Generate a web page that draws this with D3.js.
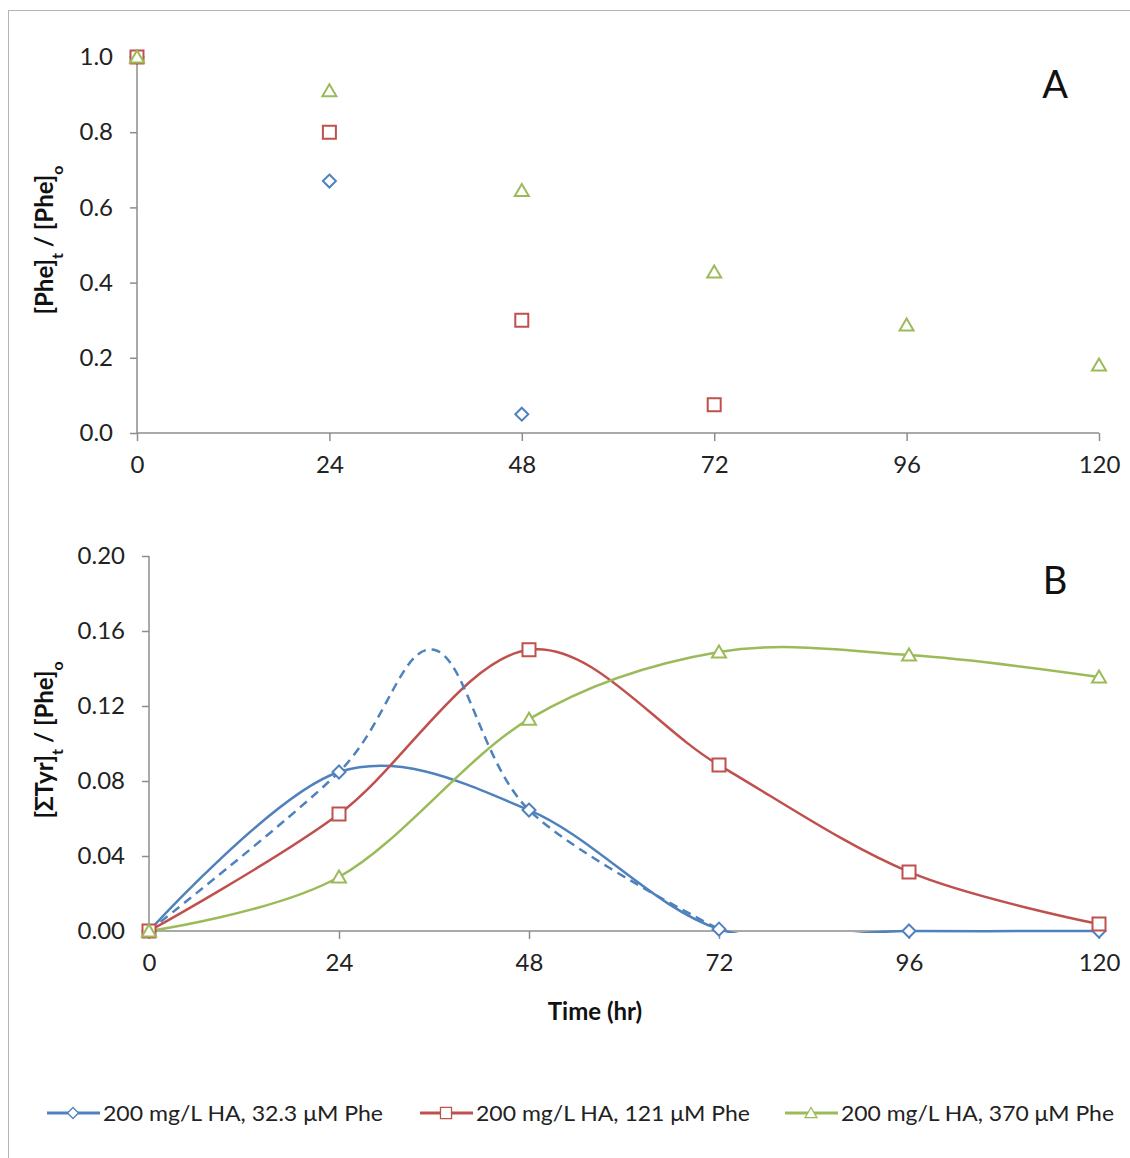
<!DOCTYPE html>
<html>
<head>
<meta charset="utf-8">
<script src="https://cdn.jsdelivr.net/npm/d3@7"></script>
<style>
  html, body { margin: 0; padding: 0; background: #fff; }
  svg { display: block; font-family: Lato, "Open Sans", sans-serif; }
</style>
</head>
<body>
<svg id="chart" width="1130" height="1158"></svg>
<script>
// Sampling times (hr)
const hours = [0, 24, 48, 72, 96, 120];

// Panel A: remaining Phe fraction [Phe]t/[Phe]o
const pheLow  = [1.0, 0.67, 0.05];                       // 32.3 µM Phe
const pheMid  = [1.0, 0.80, 0.30, 0.075];                // 121 µM Phe
const pheHigh = [1.0, 0.91, 0.645, 0.428, 0.287, 0.181]; // 370 µM Phe

// Panel B: total tyrosine yield [ΣTyr]t/[Phe]o
const tyrLow  = [0, 0.0848, 0.0645, 0.001, 0, 0];
const tyrMid  = [0, 0.0624, 0.150, 0.0885, 0.0315, 0.0037];
const tyrHigh = [0, 0.0288, 0.113, 0.1488, 0.1472, 0.1355];

// Alternative trace for the 32.3 µM run (dashed, no markers)
const altHours = [0, 24, 36, 48, 72];
const tyrLowAlt = [0, 0.0848, 0.150, 0.0645, 0.001];

const ticksA = [0, 0.2, 0.4, 0.6, 0.8, 1.0];
const ticksB = [0, 0.04, 0.08, 0.12, 0.16, 0.20];
const timeTicks = [0, 24, 48, 72, 96, 120];

const seriesNames = ["200 mg/L HA, 32.3 \u03BCM Phe", "200 mg/L HA, 121 \u03BCM Phe", "200 mg/L HA, 370 \u03BCM Phe"];
const colors = ["#4F81BD", "#C0504D", "#9BBB59"];
const shapes = ["diamond", "square", "triangle"];

const svg = d3.select("#chart");
const axisColor = "#8c8c8c";

// outer chart frame
svg.append("rect").attr("x", 8.5).attr("y", 10.5).attr("width", 1140).attr("height", 1170)
  .attr("fill", "none").attr("stroke", "#b4b4b4").attr("stroke-width", 1);

function markerPath(shape) {
  if (shape === "diamond") return "M0,-6.5L6.5,0L0,6.5L-6.5,0Z";
  if (shape === "square") return "M-6.5,-6.5H6.5V6.5H-6.5Z";
  return "M0,-6.5L7,5.5H-7Z";
}

function drawMarkers(g, xs, ys, x, y, i) {
  g.selectAll(null).data(ys).join("path")
    .attr("d", markerPath(shapes[i]))
    .attr("transform", (d, k) => `translate(${x(xs[k])},${y(d)})`)
    .attr("fill", "#fff").attr("stroke", colors[i]).attr("stroke-width", 2);
}

function drawAxes(g, x, y, yTicks, fmt) {
  const xAxis = d3.axisBottom(x).tickValues(timeTicks).tickSize(8).tickPadding(15).tickFormat(d3.format("d"));
  const yAxis = d3.axisLeft(y).tickValues(yTicks).tickSize(7).tickPadding(17).tickFormat(d3.format(fmt));
  const gx = g.append("g").attr("transform", `translate(0,${y(0)})`).call(xAxis);
  const gy = g.append("g").attr("transform", `translate(${x(0)},0)`).call(yAxis);
  [gx, gy].forEach(a => {
    a.select(".domain").attr("stroke", axisColor).attr("stroke-width", 1.5);
    a.selectAll(".tick line").attr("stroke", axisColor).attr("stroke-width", 1.5);
    a.selectAll(".tick text").attr("fill", "#222").style("font-size", "24px").style("font-family", "Lato, sans-serif");
  });
  gx.select(".domain").attr("d", `M${x(0)},0H${x(120)}`);
  gy.select(".domain").attr("d", `M0,${y(yTicks[yTicks.length - 1])}V${y(0)}`);
}

function yTitle(g, cx, cy, parts) {
  const t = g.append("text").attr("transform", `translate(${cx},${cy}) rotate(-90)`)
    .attr("text-anchor", "middle").attr("font-weight", "bold").attr("font-size", 24).attr("fill", "#111");
  parts.forEach(p => {
    const s = t.append("tspan").text(p.t);
    if (p.sub) s.attr("font-size", 16).attr("baseline-shift", "sub");
  });
}

// ---------- Panel A ----------
const xA = d3.scaleLinear().domain([0, 120]).range([137, 1099]);
const yA = d3.scaleLinear().domain([0, 1]).range([433, 57]);
const gA = svg.append("g");
drawAxes(gA, xA, yA, ticksA, ".1f");
yTitle(gA, 53, 240, [{t: "[Phe]"}, {t: "t", sub: true}, {t: " / [Phe]"}, {t: "o", sub: true}]);
gA.append("text").attr("x", 1055).attr("y", 98).attr("text-anchor", "middle")
  .attr("font-size", 38).attr("fill", "#111").text("A");

[pheLow, pheMid, pheHigh].forEach((vals, i) => drawMarkers(gA, hours, vals, xA, yA, i));

// ---------- Panel B ----------
const xB = d3.scaleLinear().domain([0, 120]).range([149, 1099]);
const yB = d3.scaleLinear().domain([0, 0.2]).range([931, 556]);
const gB = svg.append("g");
drawAxes(gB, xB, yB, ticksB, ".2f");
yTitle(gB, 53, 740, [{t: "[\u03A3Tyr]"}, {t: "t", sub: true}, {t: " / [Phe]"}, {t: "o", sub: true}]);
gB.append("text").attr("x", 1055).attr("y", 594).attr("text-anchor", "middle")
  .attr("font-size", 38).attr("fill", "#111").text("B");
gB.append("text").attr("x", 595).attr("y", 1020).attr("text-anchor", "middle")
  .attr("font-weight", "bold").attr("font-size", 24).attr("fill", "#111").text("Time (hr)");

// curves are clipped just below the zero line, like the plot area edge
svg.append("defs").append("clipPath").attr("id", "plotB")
  .append("rect").attr("x", xB(0) - 10).attr("y", yB(0.2) - 10)
  .attr("width", xB(120) - xB(0) + 20).attr("height", yB(0) - yB(0.2) + 12);

const smooth = (x, y, xs) => d3.line().x((d, k) => x(xs[k])).y(d => y(d)).curve(d3.curveCardinal.tension(0));
const lines = gB.append("g").attr("clip-path", "url(#plotB)");

[tyrLow, tyrMid, tyrHigh].forEach((vals, i) => {
  lines.append("path").datum(vals).attr("d", smooth(xB, yB, hours))
    .attr("fill", "none").attr("stroke", colors[i]).attr("stroke-width", 2.5);
});
lines.append("path").datum(tyrLowAlt).attr("d", smooth(xB, yB, altHours))
  .attr("fill", "none").attr("stroke", colors[0]).attr("stroke-width", 2.5)
  .attr("stroke-dasharray", "9,6");
[tyrLow, tyrMid, tyrHigh].forEach((vals, i) => drawMarkers(gB, hours, vals, xB, yB, i));

// ---------- Legend ----------
const legendX = [47, 420, 785];
const legendTextLen = [280, 274, 273];
const legend = svg.append("g");
seriesNames.forEach((name, i) => {
  const lg = legend.append("g").attr("transform", `translate(${legendX[i]},1113)`);
  lg.append("line").attr("x1", 0).attr("x2", 53).attr("y1", 0).attr("y2", 0)
    .attr("stroke", colors[i]).attr("stroke-width", 3);
  lg.append("path").attr("d", markerPath(shapes[i])).attr("transform", "translate(26,0) scale(0.85)")
    .attr("fill", "#fff").attr("stroke", colors[i]).attr("stroke-width", 1.5);
  lg.append("text").attr("x", 56).attr("y", 8).attr("font-size", 22).attr("fill", "#222")
    .attr("textLength", legendTextLen[i]).attr("lengthAdjust", "spacingAndGlyphs").text(name);
});
</script>
</body>
</html>
